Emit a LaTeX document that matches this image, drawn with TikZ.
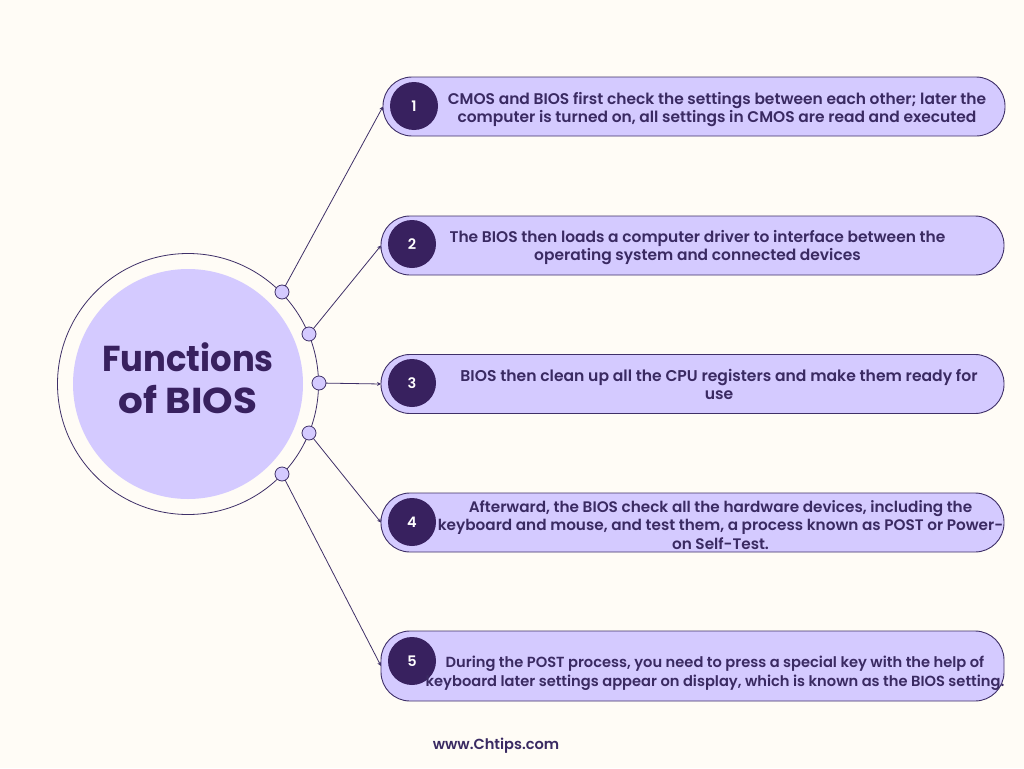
\documentclass[tikz,border=0pt]{standalone}
\usepackage{fontspec}
\usetikzlibrary{arrows.meta}
\setmainfont{Poppins}[UprightFont=*-SemiBold,BoldFont=*-SemiBold]
\newfontfamily\titlefont{Poppins}[UprightFont=*-Bold,BoldFont=*-Bold,FakeStretch=0.94]
\newfontfamily\titlewide{Poppins}[UprightFont=*-Bold,BoldFont=*-Bold,FakeStretch=1.08]
\definecolor{bgc}{HTML}{FFFCF6}
\definecolor{lav}{HTML}{D4CAFF}
\definecolor{deep}{HTML}{38215F}
\definecolor{ink}{HTML}{3A2A62}
\definecolor{wire}{HTML}{3F3068}
\tikzset{
  x=1pt,y=-1pt,
  pillbox/.style={draw=wire,line width=0.9pt,fill=lav,minimum width=#1,minimum height=59pt,rounded corners=29pt,inner sep=0pt,outer sep=0pt},
  numdot/.style={circle,fill=deep,minimum size=48pt,inner sep=0pt,text=white,font=\fontsize{14.5}{16}\selectfont},
  joint/.style={circle,draw=wire,line width=0.8pt,fill=lav,minimum size=14pt,inner sep=0pt,outer sep=0pt},
  lead/.style={draw=wire,line width=0.8pt,-{Stealth[length=4pt,width=4pt]}},
  body/.style={text=ink,align=center,inner sep=0pt,font=\fontsize{#1}{18.8}\selectfont},
}
\begin{document}
\begin{tikzpicture}
\useasboundingbox[fill=bgc] (0,0) rectangle (1024,768);
\node[circle,draw=wire,line width=0.8pt,fill=bgc,minimum size=261pt,inner sep=0pt] (ring) at (188,384) {};
\node[circle,fill=lav,minimum size=230pt,inner sep=0pt] (hub) at (188,384) {};
\node[text=deep,align=center,inner sep=0pt,font=\fontsize{36}{42}\titlefont] (title) at (188,378) {Functions\\{\titlewide of BIOS}};
\node[pillbox=622pt] (p1) at (694,106.5) {};
\node[pillbox=623pt] (p2) at (692.5,245.5) {};
\node[pillbox=623pt] (p3) at (692.5,384) {};
\node[pillbox=623pt] (p4) at (692.5,522.5) {};
\node[pillbox=623pt,minimum height=70pt] (p5) at (692.5,666) {};
\node[joint] (j1) at (282,292) {};
\node[joint] (j2) at (309,334) {};
\node[joint] (j3) at (319,383) {};
\node[joint] (j4) at (309,433) {};
\node[joint] (j5) at (282,474) {};
\draw[lead] (j1) -- (p1.west);
\draw[lead] (j2) -- (p2.west);
\draw[lead] (j3) -- (p3.west);
\draw[lead] (j4) -- (p4.west);
\draw[lead] (j5) -- (p5.west);
\node[numdot] (n1) at (414,106) {1};
\node[numdot] (n2) at (412,244) {2};
\node[numdot] (n3) at (412,383) {3};
\node[numdot] (n4) at (412,522) {4};
\node[numdot] (n5) at (412,661) {5};
\node[body=15.45] (t1) at (717,109.5) {CMOS and BIOS first check the settings between each other; later the\\computer is turned on, all settings in CMOS are read and executed};
\node[body=15.45] (t2) at (697.5,247.5) {The BIOS then loads a computer driver to interface between the\\operating system and connected devices};
\node[body=15.6] (t3) at (719,384.5) {BIOS then clean up all the CPU registers and make them ready for\\use\hspace{14pt}};
\node[body=15.25] (t4) at (720.5,525) {Afterward, the BIOS check all the hardware devices, including the\\keyboard and mouse, and test them, a process known as POST or Power-\\on Self-Test.};
\node[body=14.65] (t5) at (715,673) {During the POST process, you need to press a special key with the help of\\keyboard later settings appear on display, which is known as the BIOS setting.};
\node[text=ink,inner sep=0pt,font=\fontsize{14.6}{16}\selectfont] (foot) at (496,746) {www.Chtips.com};
\end{tikzpicture}
\end{document}
